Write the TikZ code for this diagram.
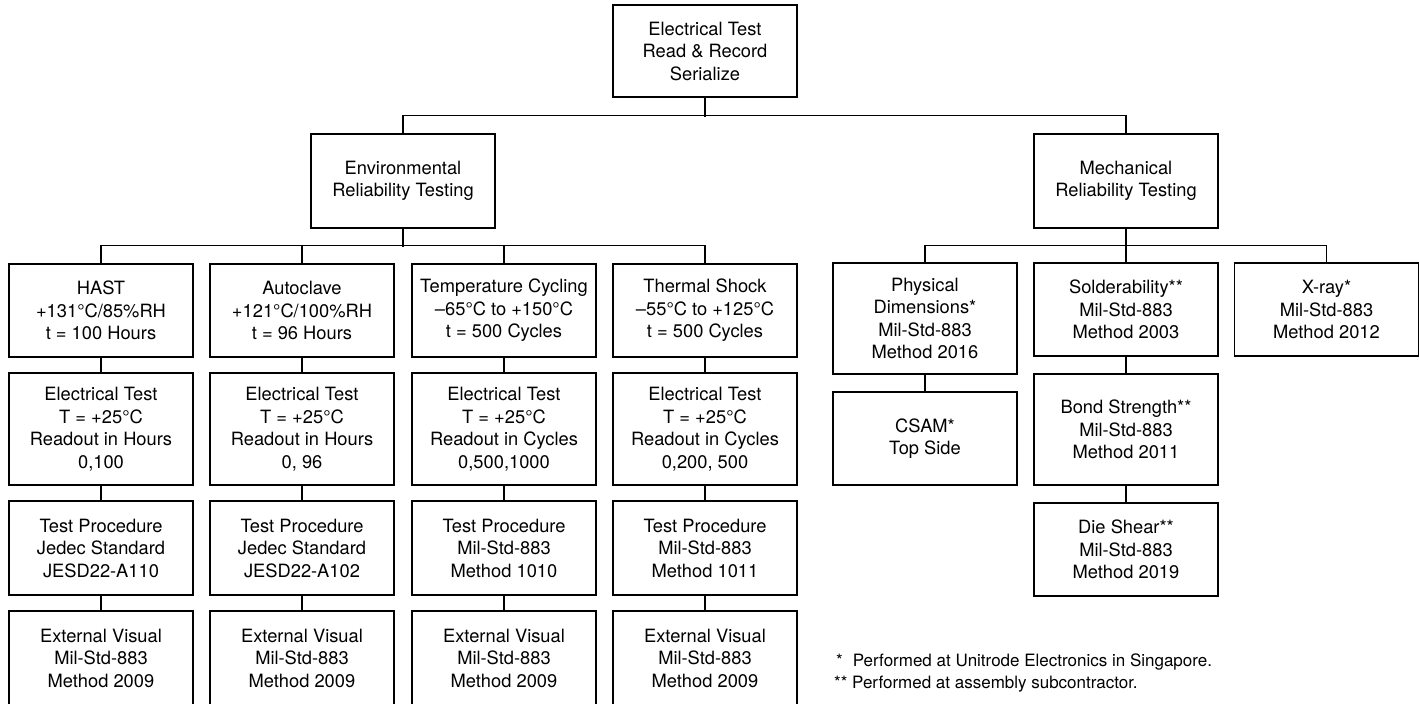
\documentclass[tikz,border=0pt]{standalone}
\usepackage{fontspec}
\setmainfont{TeX Gyre Heros}
\begin{document}
\begin{tikzpicture}[x=1pt,y=-1pt,
  box/.style={draw, line width=1.5pt, minimum width=184pt, align=center, inner sep=0pt,
              font=\fontsize{18.3}{22.5}\selectfont},
  link/.style={line width=1.5pt},
  note/.style={anchor=west, inner sep=0pt, font=\fontsize{17}{21}\selectfont}]
\useasboundingbox (0,0) rectangle (1419,704);
\fill[white] (0,0) rectangle (1419,704);

% top
\node[box, minimum height=92pt] (top) at (705,51) {Electrical Test\\Read \& Record\\Serialize};
\node[box, minimum height=94pt] (env) at (403,181) {Environmental\\Reliability Testing};
\node[box, minimum height=94pt] (mech) at (1126,181) {Mechanical\\Reliability Testing};

% environmental columns
\node[box, minimum height=93pt] (hast) at (101,310.5) {HAST\\+131°C/85\%RH\\t = 100 Hours};
\node[box, minimum height=93pt] (auto) at (302,310.5) {Autoclave\\+121°C/100\%RH\\t = 96 Hours};
\node[box, minimum height=93pt] (tc) at (504,310.5) {Temperature Cycling\\–65°C to +150°C\\t = 500 Cycles};
\node[box, minimum height=93pt] (ts) at (705,310.5) {Thermal Shock\\–55°C to +125°C\\t = 500 Cycles};

\node[box, minimum height=112pt] (hastE) at (101,429) {Electrical Test\\T = +25°C\\Readout in Hours\\0,100};
\node[box, minimum height=112pt] (autoE) at (302,429) {Electrical Test\\T = +25°C\\Readout in Hours\\0, 96};
\node[box, minimum height=112pt] (tcE) at (504,429) {Electrical Test\\T = +25°C\\Readout in Cycles\\0,500,1000};
\node[box, minimum height=112pt] (tsE) at (705,429) {Electrical Test\\T = +25°C\\Readout in Cycles\\0,200, 500};

\node[box, minimum height=94pt] (hastP) at (101,548) {Test Procedure\\Jedec Standard\\JESD22-A110};
\node[box, minimum height=94pt] (autoP) at (302,548) {Test Procedure\\Jedec Standard\\JESD22-A102};
\node[box, minimum height=94pt] (tcP) at (504,548) {Test Procedure\\Mil-Std-883\\Method 1010};
\node[box, minimum height=94pt] (tsP) at (705,548) {Test Procedure\\Mil-Std-883\\Method 1011};

\node[box, minimum height=94pt] (hastV) at (101,658) {External Visual\\Mil-Std-883\\Method 2009};
\node[box, minimum height=94pt] (autoV) at (302,658) {External Visual\\Mil-Std-883\\Method 2009};
\node[box, minimum height=94pt] (tcV) at (504,658) {External Visual\\Mil-Std-883\\Method 2009};
\node[box, minimum height=94pt] (tsV) at (705,658) {External Visual\\Mil-Std-883\\Method 2009};

% mechanical columns
\node[box, minimum height=111pt] (phys) at (925,318.5) {Physical\\Dimensions*\\Mil-Std-883\\Method 2016};
\node[box, minimum height=93pt] (csam) at (925,438.5) {CSAM*\\Top Side};
\node[box, minimum height=93pt] (sold) at (1126,309.5) {Solderability**\\Mil-Std-883\\Method 2003};
\node[box, minimum height=111pt] (bond) at (1126,429.5) {Bond Strength**\\Mil-Std-883\\Method 2011};
\node[box, minimum height=93pt] (die) at (1126,549.5) {Die Shear**\\Mil-Std-883\\Method 2019};
\node[box, minimum height=93pt] (xray) at (1326.5,309.5) {X-ray*\\Mil-Std-883\\Method 2012};

% footnotes
\node[note] (fn1) at (836,662) {*\hspace{10pt}Performed at Unitrode Electronics in Singapore.};
\node[note] (fn2) at (834,684) {** Performed at assembly subcontractor.};

% connectors
\draw[link] (top.south) -- ++(0,19);
\draw[link] (env.north) -- ++(0,-18) -| (mech.north);

\draw[link] (env.south) -- ++(0,18);
\draw[link] (hast.north) -- ++(0,-18) -| (ts.north);
\draw[link] (auto.north) -- ++(0,-18);
\draw[link] (tc.north) -- ++(0,-18);

\draw[link] (mech.south) -- ++(0,18);
\draw[link] (phys.north) -- ++(0,-17) -| (xray.north);
\draw[link] (sold.north) -- ++(0,-17);

\foreach \c in {hast,auto,tc,ts}{
  \draw[link] (\c.south) -- (\c E.north);
  \draw[link] (\c E.south) -- (\c P.north);
  \draw[link] (\c P.south) -- (\c V.north);
}
\draw[link] (phys.south) -- (csam.north);
\draw[link] (sold.south) -- (bond.north);
\draw[link] (bond.south) -- (die.north);
\end{tikzpicture}
\end{document}
